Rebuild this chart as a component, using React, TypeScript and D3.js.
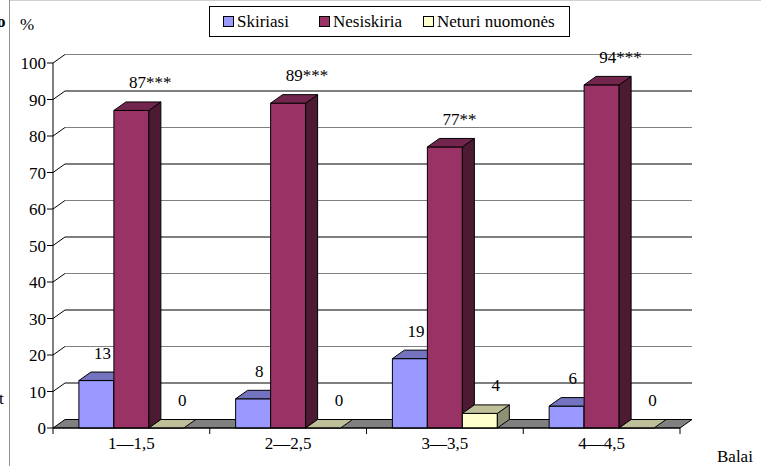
import React from "react";
import * as d3 from "d3";

const categories = ["1—1,5", "2—2,5", "3—3,5", "4—4,5"];
const seriesNames = ["Skiriasi", "Nesiskiria", "Neturi nuomonės"];
const skiriasi = [13, 8, 19, 6];
const nesiskiria = [87, 89, 77, 94];
const neturi = [0, 0, 4, 0];
const nesiskiriaStars = ["***", "***", "**", "***"];
const yTicks = [0, 10, 20, 30, 40, 50, 60, 70, 80, 90, 100];

const W = 761, H = 466;
const DX = 12, DY = -8.5;
const FONT = "Liberation Serif, Tinos, Times New Roman, serif";

const colors = [
  { front: "#9999ff", top: "#7373bf", side: "#5c5c99" },
  { front: "#993366", top: "#73264d", side: "#4d1a33" },
  { front: "#ffffcc", top: "#bfbf99", side: "#8f8f73" },
];

const T = (props: any) => <text {...props} style={{ fontFamily: FONT, fontSize: 17 }} fill="#000" />;

export default function App() {
  const y = d3.scaleLinear().domain([0, 100]).range([428, 63]);
  const x = d3.scaleBand().domain(categories).range([53, 680]).paddingInner(0).paddingOuter(0);
  const xs = d3.scaleBand().domain(seriesNames).range([0, x.bandwidth()]).paddingInner(0).paddingOuter(0.74);
  const data = [skiriasi, nesiskiria, neturi];
  const x0 = 53, x1 = 680, y0 = y(0);

  const pts = (arr: number[][]) => arr.map((p) => p.join(",")).join(" ");

  const bars: React.ReactNode[] = [];
  const labels: React.ReactNode[] = [];
  categories.forEach((c, ci) => {
    seriesNames.forEach((s, si) => {
      const v = data[si][ci];
      const bx = (x(c) as number) + (xs(s) as number);
      const bw = xs.bandwidth();
      const top = y(v);
      const col = colors[si];
      const key = `${ci}-${si}`;
      bars.push(
        <g key={key} stroke="#000" strokeWidth={1} strokeLinejoin="round">
          {v > 0 && <rect x={bx} y={top} width={bw} height={y0 - top} fill={col.front} />}
          {v > 0 && (
            <polygon
              points={pts([[bx + bw, top], [bx + bw + DX, top + DY], [bx + bw + DX, y0 + DY], [bx + bw, y0]])}
              fill={col.side}
            />
          )}
          <polygon
            points={pts([[bx, top], [bx + DX, top + DY], [bx + bw + DX, top + DY], [bx + bw, top]])}
            fill={col.top}
          />
        </g>
      );
      const cx = bx + bw / 2 + DX / 2 + (si === 2 ? 10 : 0);
      const ly = top - 22;
      const numStr = String(v);
      if (si === 1) {
        const half = (numStr.length * 8.5) / 2;
        labels.push(
          <T key={"l" + key} x={cx - half} y={ly}>
            {numStr + nesiskiriaStars[ci]}
          </T>
        );
      } else {
        labels.push(
          <T key={"l" + key} x={cx} y={ly} textAnchor="middle">
            {numStr}
          </T>
        );
      }
    });
  });

  const legendX = [223, 319, 423];

  return (
    <svg width={W} height={H} style={{ position: "absolute", left: 0, top: 0, background: "#fff" }}>
      <rect x={0} y={0} width={W} height={H} fill="#fff" />
      <line x1={9} y1={0.5} x2={W} y2={0.5} stroke="#d0d0d0" />
      <line x1={9.5} y1={0} x2={9.5} y2={H} stroke="#909090" />
      <text x={-3} y={27} style={{ fontFamily: FONT, fontSize: 17, fontWeight: "bold" }}>o</text>
      <T x={-1} y={404}>t</T>

      {/* floor */}
      <polygon
        points={pts([[x0, y0], [x1, y0], [x1 + DX, y0 + DY], [x0 + DX, y0 + DY]])}
        fill="#808080"
        stroke="#000"
        strokeWidth={1}
      />
      {yTicks.filter((t) => t > 0).map((t) => (
        <g key={"g" + t}>
          <line
            x1={x0 + DX}
            y1={y(t) + DY}
            x2={x1 + DX}
            y2={y(t) + DY}
            stroke={t % 20 === 0 ? "#808080" : "#000"}
            strokeWidth={1.2}
          />
          <line x1={x0} y1={y(t)} x2={x0 + DX} y2={y(t) + DY} stroke="#000" strokeWidth={1} />
        </g>
      ))}

      {bars}

      <line x1={x0} y1={y(100)} x2={x0} y2={y0} stroke="#000" />
      <line x1={x0} y1={y0} x2={x1} y2={y0} stroke="#000" />
      {yTicks.map((t) => (
        <g key={"t" + t}>
          <line x1={x0 - 6} y1={y(t)} x2={x0} y2={y(t)} stroke="#000" />
          <T x={x0 - 7} y={y(t) + 6} textAnchor="end">
            {t}
          </T>
        </g>
      ))}
      {categories.map((c) => (
        <g key={"c" + c}>
          <line x1={(x(c) as number) + x.bandwidth()} y1={y0} x2={(x(c) as number) + x.bandwidth()} y2={y0 + 6} stroke="#000" />
          <T x={(x(c) as number) + x.bandwidth() / 2} y={y0 + 21} textAnchor="middle">
            {c}
          </T>
        </g>
      ))}
      <line x1={x0} y1={y0} x2={x0} y2={y0 + 6} stroke="#000" />

      {labels}

      <T x={20} y={30}>%</T>
      <T x={717} y={462}>Balai</T>

      <rect x={209.5} y={6.5} width={360} height={30} fill="#fff" stroke="#000" />
      {seriesNames.map((s, i) => (
        <g key={"lg" + s}>
          <rect x={legendX[i] + 0.5} y={16.5} width={10} height={10} fill={colors[i].front} stroke="#000" />
          <T x={legendX[i] + 14} y={27}>
            {s}
          </T>
        </g>
      ))}
    </svg>
  );
}
